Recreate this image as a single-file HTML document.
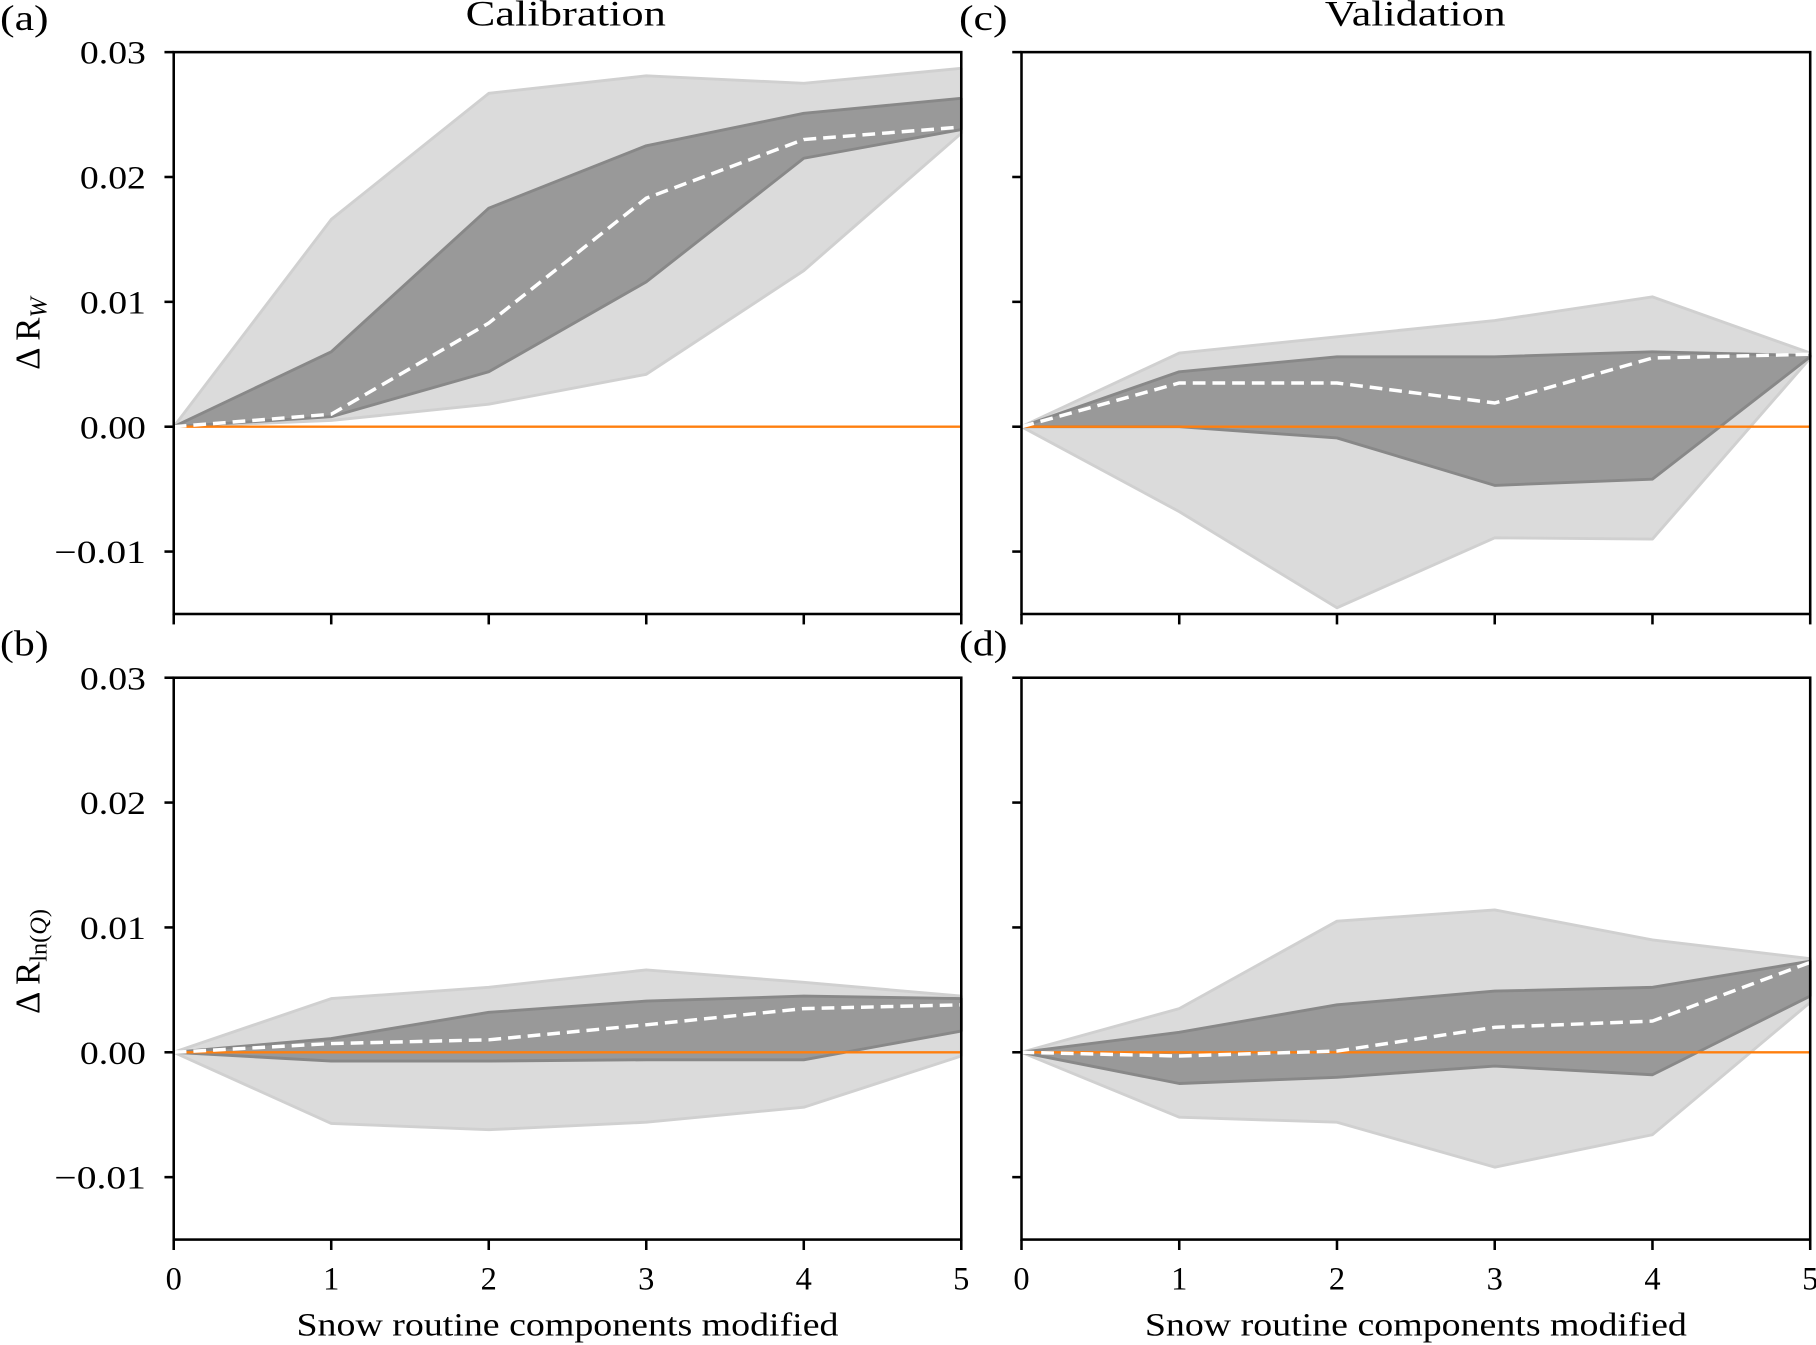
<!DOCTYPE html>
<html><head><meta charset="utf-8"><style>
html,body{margin:0;padding:0;background:#fff;}
svg{display:block;}
text{font-family:"Liberation Serif","DejaVu Serif",serif;fill:#000;}
</style></head><body>
<svg id="fig" width="1816" height="1345" viewBox="0 0 1568 1161" preserveAspectRatio="none" xmlns="http://www.w3.org/2000/svg" font-family="Liberation Serif, serif"></svg>
<script>
const xCats = [0,1,2,3,4,5];
const yTicks = [-0.01,0,0.01,0.02,0.03];
const yTickLabels = ["\u22120.01","0.00","0.01","0.02","0.03"];
// panel a
const aLightUp = [0,0.0166,0.0267,0.0281,0.0275,0.0287];
const aLightLo = [0,0.0005,0.0018,0.0042,0.0125,0.0235];
const aDarkUp  = [0,0.0060,0.0175,0.0225,0.0251,0.0263];
const aDarkLo  = [0,0.0008,0.0044,0.0116,0.0215,0.0238];
const aMedian  = [0,0.0010,0.0083,0.0183,0.0230,0.0240];
// panel c
const cLightUp = [0,0.0059,0.0072,0.0085,0.0104,0.0059];
const cLightLo = [0,-0.0068,-0.0145,-0.0089,-0.0090,0.0055];
const cDarkUp  = [0,0.0044,0.0056,0.0056,0.0060,0.0057];
const cDarkLo  = [0,0.0000,-0.0009,-0.0047,-0.0042,0.0056];
const cMedian  = [0,0.0035,0.0035,0.0019,0.0055,0.0058];
// panel b
const bLightUp = [0,0.0043,0.0052,0.0066,0.0056,0.0045];
const bLightLo = [0,-0.0057,-0.0062,-0.0056,-0.0044,-0.0003];
const bDarkUp  = [0,0.0011,0.0032,0.0041,0.0045,0.0043];
const bDarkLo  = [0,-0.0007,-0.0007,-0.0006,-0.0006,0.0017];
const bMedian  = [0,0.0007,0.0010,0.0022,0.0035,0.0038];
// panel d
const dLightUp = [0,0.0035,0.0105,0.0114,0.0090,0.0075];
const dLightLo = [0,-0.0052,-0.0056,-0.0092,-0.0066,0.0040];
const dDarkUp  = [0,0.0016,0.0038,0.0049,0.0052,0.0073];
const dDarkLo  = [0,-0.0025,-0.0020,-0.0011,-0.0018,0.0045];
const dMedian  = [0,-0.0003,0.0001,0.0020,0.0025,0.0072];

const NS="http://www.w3.org/2000/svg";
const svg=document.getElementById('fig');
function mk(tag,attrs,parent){const e=document.createElementNS(NS,tag);for(const k in attrs)e.setAttribute(k,attrs[k]);(parent||svg).appendChild(e);return e;}

const panels=[
 {id:'a',x0:150,x1:830,y0:45,y1:530,lu:aLightUp,ll:aLightLo,du:aDarkUp,dl:aDarkLo,md:aMedian,ylab:true,xlab:false},
 {id:'c',x0:882,x1:1563,y0:45,y1:530,lu:cLightUp,ll:cLightLo,du:cDarkUp,dl:cDarkLo,md:cMedian,ylab:false,xlab:false},
 {id:'b',x0:150,x1:830,y0:585,y1:1070,lu:bLightUp,ll:bLightLo,du:bDarkUp,dl:bDarkLo,md:bMedian,ylab:true,xlab:true},
 {id:'d',x0:882,x1:1563,y0:585,y1:1070,lu:dLightUp,ll:dLightLo,du:dDarkUp,dl:dDarkLo,md:dMedian,ylab:false,xlab:true}
];
panels.forEach(p=>{
  const g=mk('g',{});
  
  
  const sx=v=>p.x0+(v-0)/5*(p.x1-p.x0);
  const sy=v=>p.y1-(v+0.015)/0.045*(p.y1-p.y0);
  const band=(up,lo,fill,stroke,name)=>{
    let pts=xCats.map((x,i)=>sx(x)+','+sy(up[i]));
    pts=pts.concat(xCats.slice().reverse().map((x,j)=>{const i=xCats.length-1-j;return sx(x)+','+sy(lo[i]);}));
    const e=mk('polygon',{points:pts.join(' '),fill:fill,stroke:stroke,'stroke-width':2.5,'stroke-linejoin':'round'},g);
    
    
  };
  band(p.lu,p.ll,'#dbdbdb','#d0d0d0','range-band-'+p.id);
  band(p.du,p.dl,'#999999','#888888','iqr-band-'+p.id);
  const zl=mk('line',{x1:p.x0,x2:p.x1,y1:sy(0),y2:sy(0),stroke:'#ff7f0e','stroke-width':2},g);
  
  
  const md=mk('polyline',{points:xCats.map((x,i)=>sx(x)+','+sy(p.md[i])).join(' '),fill:'none',stroke:'#fff','stroke-width':3,'stroke-dasharray':'11,6'},g);
  
  
  const fr=mk('rect',{x:p.x0,y:p.y0,width:p.x1-p.x0,height:p.y1-p.y0,fill:'none',stroke:'#000','stroke-width':2.2},g);
  
  
  yTicks.forEach((t,i)=>{
    mk('line',{x1:p.x0-8,x2:p.x0,y1:sy(t),y2:sy(t),stroke:'#000','stroke-width':2.2},g);
    if(p.ylab){const lab=yTickLabels[i];
      const tx=mk('text',{x:p.x0-24,y:sy(t)+10,'text-anchor':'end','font-size':28,textLength:(lab.length>4?79:57),lengthAdjust:'spacingAndGlyphs'},g);tx.textContent=lab;
      
      }
  });
  xCats.forEach(x=>{
    mk('line',{x1:sx(x),x2:sx(x),y1:p.y1,y2:p.y1+9,stroke:'#000','stroke-width':2.2},g);
    if(p.xlab){const tx=mk('text',{x:sx(x),y:p.y1+43,'text-anchor':'middle','font-size':28},g);tx.textContent=x;
      
      }
  });
  const pl=mk('text',{x:(p.id==='a'||p.id==='b')?0:828,y:p.y0-19,'font-size':31,textLength:42,lengthAdjust:'spacingAndGlyphs'},g);
  pl.textContent='('+p.id+')';
  
  
  if(p.xlab){const xt=mk('text',{x:(p.x0+p.x1)/2-234,y:1153,'font-size':28,textLength:468,lengthAdjust:'spacingAndGlyphs'},g);xt.textContent='Snow routine components modified';
    
    }
});
</script>
<svg style="position:absolute;left:0;top:0" width="1816" height="1345" viewBox="0 0 1568 1161" preserveAspectRatio="none" xmlns="http://www.w3.org/2000/svg">
<text x="402" y="22" font-size="31" textLength="173" lengthAdjust="spacingAndGlyphs">Calibration</text>
<text x="1144" y="22" font-size="31" textLength="156" lengthAdjust="spacingAndGlyphs">Validation</text>
<text transform="translate(34,288) rotate(-90)" text-anchor="middle" font-size="30">Δ R<tspan font-style="italic" font-size="21" dy="6">W</tspan></text>
<text transform="translate(34,830) rotate(-90)" text-anchor="middle" font-size="30">Δ R<tspan font-size="21" dy="6">ln(<tspan font-style="italic">Q</tspan>)</tspan></text>
</svg>
</body></html>
